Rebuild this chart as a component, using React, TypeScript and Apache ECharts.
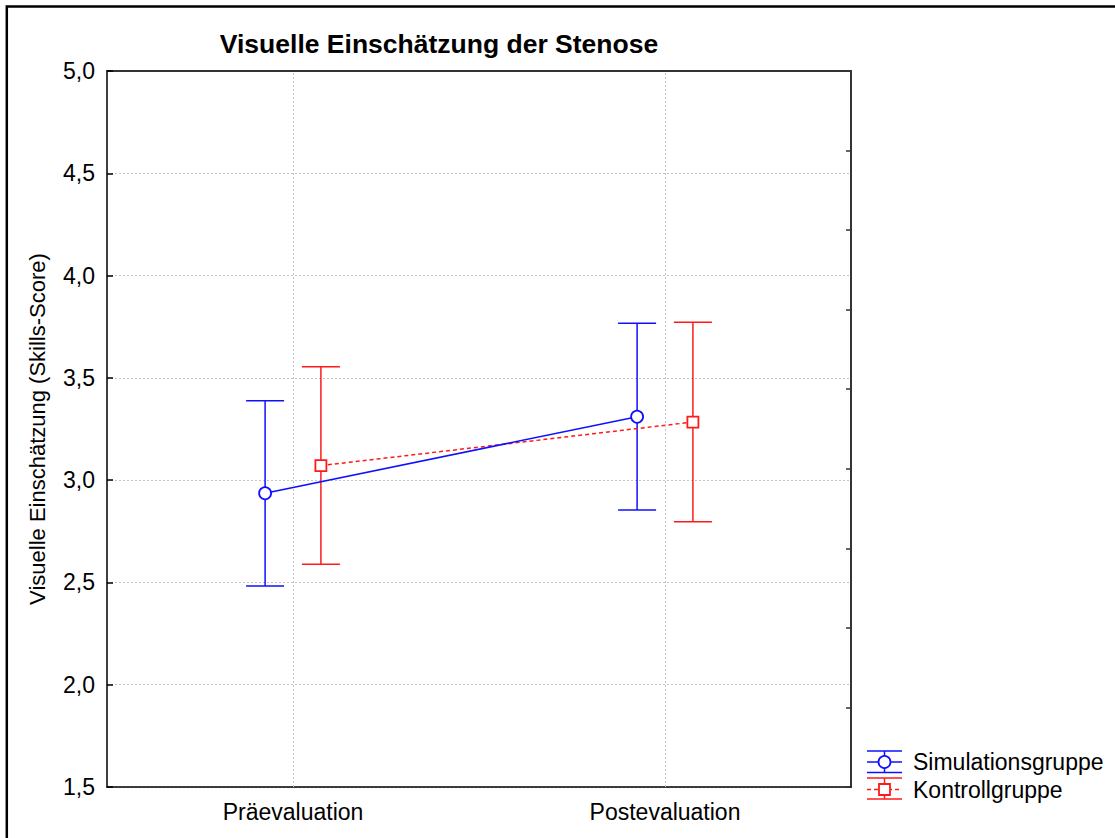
import React, { useEffect, useRef } from "react";
import * as echarts from "echarts";

// Messzeitpunkte
const categories = ["Präevaluation", "Postevaluation"];

// Simulationsgruppe: Mittelwert mit Konfidenzintervall
const simMean = [2.936, 3.31];
const simLower = [2.483, 2.854];
const simUpper = [3.388, 3.767];

// Kontrollgruppe: Mittelwert mit Konfidenzintervall
const ctlMean = [3.071, 3.284];
const ctlLower = [2.589, 2.797];
const ctlUpper = [3.554, 3.772];

const yTicks = [1.5, 2.0, 2.5, 3.0, 3.5, 4.0, 4.5, 5.0];

const BLUE = "#1010ff";
const RED = "#ff1a1a";
const FONT = "'Liberation Sans', Arial, Helvetica, sans-serif";
const DODGE = 0.075; // horizontal offset of each group within a category
const CAP = 19; // half width of the error-bar caps in px

const fmt = (v: number) => v.toFixed(1).replace(".", ",");

function errorBarSeries(name: string, color: string, lower: number[], upper: number[], shift: number) {
  return {
    name: name + "-KI",
    type: "custom",
    xAxisIndex: 2,
    yAxisIndex: 0,
    z: 2,
    silent: true,
    data: lower.map((lo, i) => [i + shift, lo, upper[i]]),
    encode: { x: 0, y: [1, 2] },
    renderItem: (_params: any, api: any) => {
      const x = api.value(0);
      const pHi = api.coord([x, api.value(2)]);
      const pLo = api.coord([x, api.value(1)]);
      const style = { stroke: color, lineWidth: 1.5 };
      return {
        type: "group",
        children: [
          { type: "line", shape: { x1: pHi[0], y1: pHi[1], x2: pLo[0], y2: pLo[1] }, style },
          { type: "line", shape: { x1: pHi[0] - CAP, y1: pHi[1], x2: pHi[0] + CAP, y2: pHi[1] }, style },
          { type: "line", shape: { x1: pLo[0] - CAP, y1: pLo[1], x2: pLo[0] + CAP, y2: pLo[1] }, style },
        ],
      };
    },
  };
}

export default function App() {
  const ref = useRef<HTMLDivElement>(null);

  useEffect(() => {
    if (!ref.current) return;
    const chart = echarts.init(ref.current, undefined, { renderer: "svg" });

    const gridColor = "#c4c4c4";
    const frameColor = "#333333";

    const lx = 867;
    const lMid = 884.5;
    const lRight = 902;
    const ly1 = 762;
    const ly2 = 789.5;

    chart.setOption({
      animation: false,
      backgroundColor: "#ffffff",
      textStyle: { fontFamily: FONT },
      title: {
        text: "Visuelle Einschätzung der Stenose",
        left: 434,
        top: 25,
        textAlign: "center",
        textStyle: { fontFamily: FONT, fontSize: 26.5, fontWeight: "bold", color: "#000" },
      },
      grid: { left: 107, top: 71, width: 744, height: 716, containLabel: false },
      xAxis: [
        {
          type: "category",
          data: categories,
          position: "bottom",
          boundaryGap: true,
          axisLine: { onZero: false, lineStyle: { color: "#000", width: 1.5 } },
          axisTick: { inside: true, alignWithLabel: true, length: 5, lineStyle: { color: "#000", width: 1.5 } },
          axisLabel: { fontSize: 23, color: "#000", margin: 13, fontFamily: FONT },
          splitLine: { show: false },
        },
        {
          type: "category",
          data: categories,
          position: "top",
          boundaryGap: true,
          axisLine: { onZero: false, lineStyle: { color: frameColor, width: 2 } },
          axisTick: { inside: true, alignWithLabel: true, length: 6, lineStyle: { color: frameColor, width: 1.5 } },
          axisLabel: { show: false },
          splitLine: { show: false },
        },
        {
          // hidden value axis used to place the dodged marks
          type: "value",
          min: -0.5,
          max: 1.5,
          show: false,
          axisLine: { onZero: false },
          splitLine: { show: false },
        },
      ],
      yAxis: [
        {
          type: "value",
          name: "Visuelle Einschätzung (Skills-Score)",
          nameLocation: "middle",
          nameGap: 59,
          nameTextStyle: { fontSize: 22, color: "#000", fontFamily: FONT },
          min: yTicks[0],
          max: yTicks[yTicks.length - 1],
          interval: 0.5,
          position: "left",
          axisLine: { show: true, onZero: false, lineStyle: { color: "#000", width: 1.5 } },
          axisTick: { show: true, inside: true, length: 6, lineStyle: { color: "#000", width: 1.5 } },
          axisLabel: { fontSize: 23, color: "#000", margin: 12, formatter: (v: number) => fmt(v), fontFamily: FONT },
          splitLine: { show: true, lineStyle: { color: gridColor, width: 1, type: [2, 2] } },
        },
        {
          type: "value",
          min: 0,
          max: 9,
          interval: 1,
          position: "right",
          axisLine: { show: true, onZero: false, lineStyle: { color: frameColor, width: 2 } },
          axisTick: { show: true, inside: true, length: 5, lineStyle: { color: frameColor, width: 1.5 } },
          axisLabel: { show: false },
          splitLine: { show: false },
        },
      ],
      series: [
        {
          // vertical grid lines at the category centres
          type: "line",
          xAxisIndex: 0,
          yAxisIndex: 0,
          data: [],
          silent: true,
          markLine: {
            silent: true,
            symbol: ["none", "none"],
            label: { show: false },
            lineStyle: { color: gridColor, width: 1, type: [2, 2] },
            data: categories.map((c) => ({ xAxis: c })),
          },
        },
        errorBarSeries("Simulationsgruppe", BLUE, simLower, simUpper, -DODGE),
        errorBarSeries("Kontrollgruppe", RED, ctlLower, ctlUpper, DODGE),
        {
          name: "Simulationsgruppe",
          type: "line",
          xAxisIndex: 2,
          yAxisIndex: 0,
          z: 4,
          data: simMean.map((m, i) => [i - DODGE, m]),
          lineStyle: { color: BLUE, width: 1.5 },
          symbol: "circle",
          symbolSize: 12,
          itemStyle: { color: "#fff", borderColor: BLUE, borderWidth: 1.8 },
        },
        {
          name: "Kontrollgruppe",
          type: "line",
          xAxisIndex: 2,
          yAxisIndex: 0,
          z: 3,
          data: ctlMean.map((m, i) => [i + DODGE, m]),
          lineStyle: { color: RED, width: 1.5, type: [4, 3] },
          symbol: "rect",
          symbolSize: 11,
          itemStyle: { color: "#fff", borderColor: RED, borderWidth: 1.8 },
        },
      ],
      graphic: [
        // outer frame
        {
          type: "polyline",
          shape: { points: [[6.8, 840], [6.8, 6.5], [1120, 6.5]] },
          style: { stroke: "#000", lineWidth: 2.5, fill: "none" },
        },
        // legend: Simulationsgruppe
        {
          type: "group",
          children: [
            { type: "line", shape: { x1: lx, y1: ly1 - 11, x2: lRight, y2: ly1 - 11 }, style: { stroke: BLUE, lineWidth: 1.5 } },
            { type: "line", shape: { x1: lx, y1: ly1 + 10.5, x2: lRight, y2: ly1 + 10.5 }, style: { stroke: BLUE, lineWidth: 1.5 } },
            { type: "line", shape: { x1: lMid, y1: ly1 - 11, x2: lMid, y2: ly1 + 10.5 }, style: { stroke: BLUE, lineWidth: 1.5 } },
            { type: "line", shape: { x1: lx, y1: ly1, x2: lRight, y2: ly1 }, style: { stroke: BLUE, lineWidth: 1.5 } },
            { type: "circle", shape: { cx: lMid, cy: ly1, r: 6 }, style: { fill: "#fff", stroke: BLUE, lineWidth: 1.8 } },
            {
              type: "text",
              x: 913,
              y: ly1,
              style: { text: "Simulationsgruppe", fontSize: 23, fontFamily: FONT, fill: "#000", textVerticalAlign: "middle" },
            },
          ],
        },
        // legend: Kontrollgruppe
        {
          type: "group",
          children: [
            { type: "line", shape: { x1: lx, y1: ly2 - 11.5, x2: lRight, y2: ly2 - 11.5 }, style: { stroke: RED, lineWidth: 1.5 } },
            { type: "line", shape: { x1: lx, y1: ly2 + 9.5, x2: lRight, y2: ly2 + 9.5 }, style: { stroke: RED, lineWidth: 1.5 } },
            { type: "line", shape: { x1: lMid, y1: ly2 - 11.5, x2: lMid, y2: ly2 + 9.5 }, style: { stroke: RED, lineWidth: 1.5 } },
            { type: "line", shape: { x1: lx, y1: ly2, x2: lRight, y2: ly2 }, style: { stroke: RED, lineWidth: 1.5, lineDash: [4, 3] } },
            { type: "rect", shape: { x: lMid - 5.5, y: ly2 - 5.5, width: 11, height: 11 }, style: { fill: "#fff", stroke: RED, lineWidth: 1.8 } },
            {
              type: "text",
              x: 913,
              y: ly2,
              style: { text: "Kontrollgruppe", fontSize: 23, fontFamily: FONT, fill: "#000", textVerticalAlign: "middle" },
            },
          ],
        },
      ],
    });

    return () => chart.dispose();
  }, []);

  return (
    <div
      ref={ref}
      style={{ position: "absolute", left: 0, top: 0, width: 1115, height: 838, background: "#fff" }}
    />
  );
}
